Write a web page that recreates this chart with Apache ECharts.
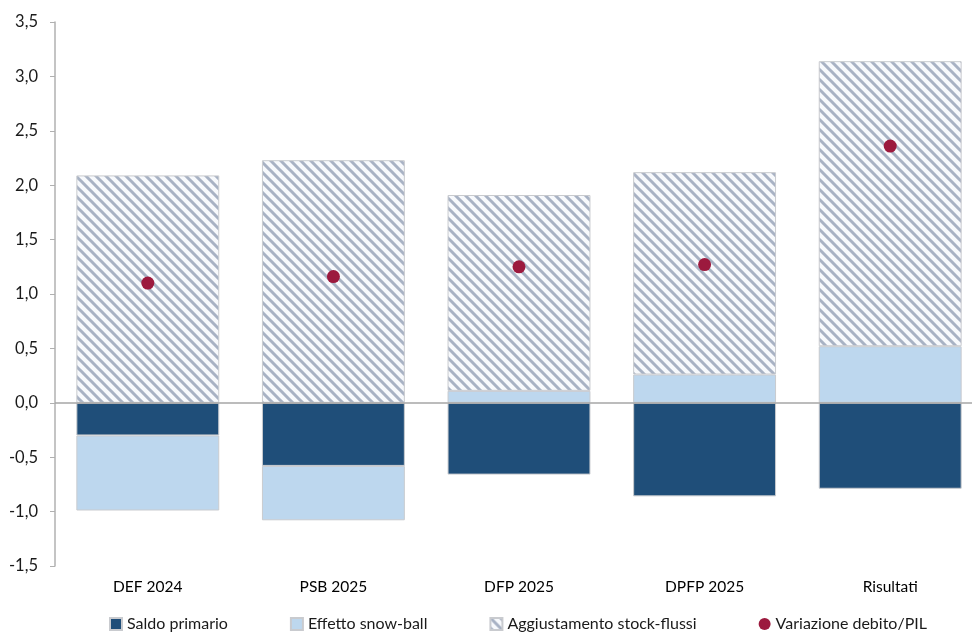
<!DOCTYPE html>
<html>
<head>
<meta charset="utf-8">
<script src="https://cdn.jsdelivr.net/npm/echarts@6/dist/echarts.min.js"></script>
<style>
  html, body { margin: 0; padding: 0; background: #fff; }
  #chart { width: 972px; height: 633px; }
</style>
</head>
<body>
<div id="chart"></div>
<script>
// Categories and component values (percentage points of GDP)
const categories = ['DEF 2024', 'PSB 2025', 'DFP 2025', 'DPFP 2025', 'Risultati'];
const saldoPrimario = [-0.30, -0.58, -0.66, -0.86, -0.79];
const effettoSnowBall = [-0.69, -0.50, 0.11, 0.26, 0.52];
const aggiustamentoStockFlussi = [2.09, 2.23, 1.80, 1.86, 2.62];
const variazioneDebito = [1.10, 1.16, 1.25, 1.27, 2.36];
const yTicks = { min: -1.5, max: 3.5, step: 0.5 };

// Diagonal hatch tile for the stock-flow adjustment bars
function hatchTile() {
  const s = 10;
  const c = document.createElement('canvas');
  c.width = s; c.height = s;
  const g = c.getContext('2d');
  g.fillStyle = '#f7f9fc';
  g.fillRect(0, 0, s, s);
  g.strokeStyle = '#a8b2c4';
  g.lineWidth = 3;
  g.beginPath();
  g.moveTo(-s, -s); g.lineTo(2 * s, 2 * s);
  g.moveTo(-s, 0); g.lineTo(s, 2 * s);
  g.moveTo(0, -s); g.lineTo(2 * s, s);
  g.stroke();
  return c;
}

const font = 'Lato, "Open Sans", sans-serif';
const chart = echarts.init(document.getElementById('chart'), null, { renderer: 'canvas' });

const barBorder = { borderColor: '#c9cbcf', borderWidth: 1 };

chart.setOption({
  animation: false,
  textStyle: { fontFamily: font },
  // plot area runs slightly past the right edge of the canvas
  grid: {
    left: 55, width: 928, top: 22, height: 544,
    containLabel: false,
    outerBoundsMode: 'none'
  },
  legend: {
    top: 611,
    left: 104,
    itemWidth: 12,
    itemHeight: 12,
    itemGap: 62,
    textStyle: { fontSize: 16, color: '#1a1a1a', fontFamily: font },
    data: [
      { name: 'Saldo primario', icon: 'rect' },
      { name: 'Effetto snow-ball', icon: 'rect' },
      { name: 'Aggiustamento stock-flussi', icon: 'rect' },
      { name: 'Variazione debito/PIL', icon: 'circle' }
    ]
  },
  xAxis: {
    type: 'category',
    data: categories,
    axisLine: { show: false, onZero: false },
    axisTick: { show: false },
    axisLabel: { fontSize: 15.5, color: '#000', margin: 13, fontFamily: font }
  },
  yAxis: {
    type: 'value',
    min: yTicks.min,
    max: yTicks.max,
    interval: yTicks.step,
    splitLine: { show: false },
    axisLine: { show: true, lineStyle: { color: '#b0b0b0', width: 1.5 } },
    axisTick: { show: true, length: 5, lineStyle: { color: '#b0b0b0' } },
    axisLabel: {
      fontSize: 16.5,
      color: '#1a1a1a',
      margin: 17,
      fontFamily: font,
      formatter: v => v.toFixed(1).replace('.', ',')
    }
  },
  series: [
    {
      name: 'Saldo primario',
      type: 'bar',
      stack: 'tot',
      barCategoryGap: '23%',
      data: saldoPrimario,
      itemStyle: Object.assign({ color: '#1f4e79' }, barBorder),
      markLine: {
        silent: true,
        symbol: 'none',
        label: { show: false },
        lineStyle: { color: '#a6a6a6', width: 1.5, type: 'solid' },
        data: [{ yAxis: 0 }]
      },
      z: 2
    },
    {
      name: 'Effetto snow-ball',
      type: 'bar',
      stack: 'tot',
      data: effettoSnowBall,
      itemStyle: Object.assign({ color: '#bdd7ee' }, barBorder),
      z: 2
    },
    {
      name: 'Aggiustamento stock-flussi',
      type: 'bar',
      stack: 'tot',
      data: aggiustamentoStockFlussi,
      itemStyle: Object.assign({ color: { image: hatchTile(), repeat: 'repeat' } }, barBorder),
      z: 2
    },
    {
      name: 'Variazione debito/PIL',
      type: 'scatter',
      data: variazioneDebito,
      symbolSize: 13,
      itemStyle: { color: '#9c1a3e', opacity: 1 },
      z: 5
    }
  ]
});
</script>
</body>
</html>
